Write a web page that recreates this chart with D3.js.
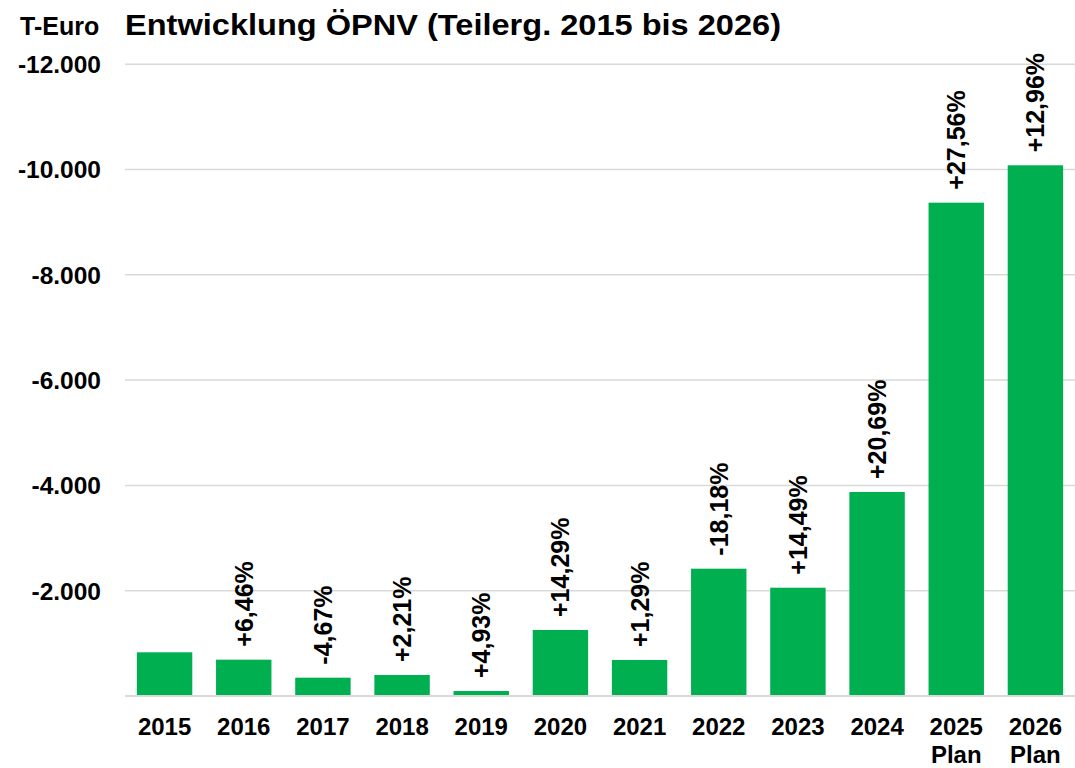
<!DOCTYPE html>
<html><head><meta charset="utf-8">
<script src="https://cdn.jsdelivr.net/npm/d3@7"></script>
<style>body{margin:0;background:#fff}svg text{font-family:"Liberation Sans",Arial,sans-serif;font-weight:bold;fill:#000}</style>
</head><body>
<svg id="c" width="1075" height="768"></svg>
<script>
const categories = ["2015","2016","2017","2018","2019","2020","2021","2022","2023","2024","2025\nPlan","2026\nPlan"];
const values = [-830,-690,-348,-399,-95,-1254,-684,-2418,-2057,-3875,-9370,-10080];
const pctLabels = ["","+6,46%","-4,67%","+2,21%","+4,93%","+14,29%","+1,29%","-18,18%","+14,49%","+20,69%","+27,56%","+12,96%"];
const yTicks = [-2000,-4000,-6000,-8000,-10000,-12000];
const title = "Entwicklung ÖPNV (Teilerg. 2015 bis 2026)";
const unit = "T-Euro";

const svg = d3.select("#c");
const x = d3.scaleBand().domain(categories).range([125,1075]).paddingInner(0.3).paddingOuter(0.15);
const y = d3.scaleLinear().domain([0,-12000]).range([696,64.2]);
const fmt = v => d3.format(",")(v).replace(/,/g,".").replace("\u2212","-");

// gridlines
svg.append("g").selectAll("line").data(yTicks).join("line")
  .attr("x1",125).attr("x2",1075).attr("y1",d=>y(d)).attr("y2",d=>y(d))
  .attr("stroke","#d9d9d9").attr("stroke-width",1.5);
// tick labels
svg.append("g").selectAll("text").data(yTicks).join("text")
  .attr("x",101).attr("y",d=>y(d)).attr("dy","0.36em").attr("text-anchor","end")
  .attr("font-size",24.5).text(d=>fmt(d));

// bars
svg.append("g").selectAll("rect").data(values).join("rect")
  .attr("x",(d,i)=>x(categories[i])).attr("width",x.bandwidth())
  .attr("y",d=>y(d)).attr("height",d=>y(0)-y(d))
  .attr("fill","#00b050");
// baseline
svg.append("line").attr("x1",125).attr("x2",1075).attr("y1",y(0)).attr("y2",y(0))
  .attr("stroke","#d9d9d9").attr("stroke-width",2);

// pct labels
svg.append("g").selectAll("text").data(values).join("text")
  .attr("transform",(d,i)=>`translate(${x(categories[i])+x.bandwidth()/2},${y(d)-13}) rotate(-90)`)
  .attr("dy","0.36em")
  .attr("font-size",25).attr("text-anchor","start")
  .text((d,i)=>pctLabels[i]);

// x labels
const xl = svg.append("g").selectAll("text").data(categories).join("text")
  .attr("x",d=>x(d)+x.bandwidth()/2).attr("y",735).attr("text-anchor","middle").attr("font-size",24);
xl.each(function(d){
  const parts = d.split("\n");
  d3.select(this).selectAll("tspan").data(parts).join("tspan")
    .attr("x",x(d)+x.bandwidth()/2).attr("dy",(p,j)=>j?"1.15em":0).text(p=>p);
});

// title and unit
svg.append("text").attr("x",20).attr("y",35).attr("font-size",25).text(unit);
svg.append("text").attr("x",125).attr("y",35).attr("font-size",29)
  .attr("textLength",656).attr("lengthAdjust","spacingAndGlyphs").text(title);
</script>
</body></html>
